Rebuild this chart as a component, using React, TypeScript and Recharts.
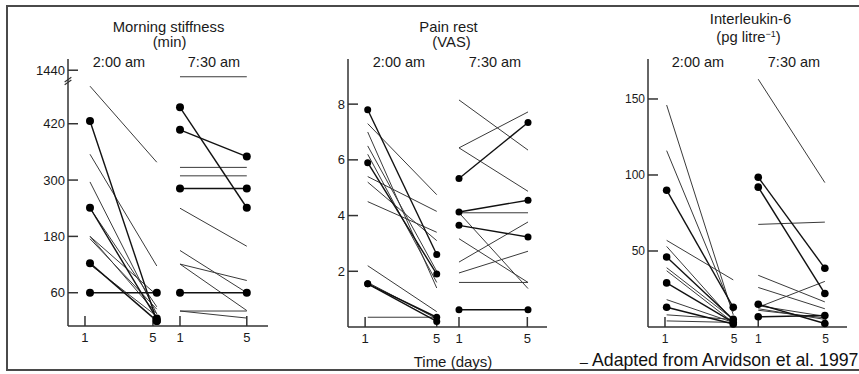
import React from 'react';
import { LineChart, Line, XAxis, YAxis, ReferenceLine } from 'recharts';

// ---------------- Morning stiffness (min) ----------------
const stiffNightDay1 = [500, 426, 355, 296, 241, 240, 180, 180, 175, 123, 120, 60];
const stiffNightDay5 = [338, 0, 117, 15, 5, 30, 55, 15, 25, 0, 10, 60];
const stiffNightMarked = [false, true, false, false, true, false, false, false, false, true, false, true];
const stiffMornDay1 = [900, 455, 407, 327, 309, 282, 240, 150, 121, 121, 60, 21, 21];
const stiffMornDay5 = [900, 241, 350, 327, 309, 282, 159, 60, 86, 22, 60, 21, 6];
const stiffMornMarked = [false, true, true, false, false, true, false, false, false, false, true, false, false];
const stiffTicks = [60, 180, 300, 420, 1440];

// ---------------- Pain rest (VAS) ----------------
const painNightDay1 = [7.3, 7.0, 6.5, 6.2, 5.4, 5.2, 4.5, 2.2, 1.6, 0.35, 7.8, 5.9, 1.55, 1.55];
const painNightDay5 = [4.75, 1.4, 2.0, 1.6, 4.15, 3.1, 3.4, 0.55, 0.3, 0.35, 2.6, 1.9, 0.35, 0.2];
const painNightMarked = [false, false, false, false, false, false, false, false, false, false, true, true, true, true];
const painMornDay1 = [8.15, 6.43, 6.43, 4.1, 3.17, 4.1, 2.33, 1.94, 1.6, 5.33, 4.13, 3.65, 0.62];
const painMornDay5 = [6.35, 7.72, 4.87, 4.1, 1.6, 1.38, 3.77, 2.72, 1.6, 7.34, 4.55, 3.23, 0.62];
const painMornMarked = [false, false, false, false, false, false, false, false, false, true, true, true, true];
const painTicks = [2, 4, 6, 8];

// ---------------- Interleukin-6 (pg/litre) ----------------
const il6NightDay1 = [146, 116, 57, 53, 39, 37, 18, 8, 4, 90, 46, 29, 13];
const il6NightDay5 = [8, 10, 31, 4, 5, 3, 3, 5, 3, 13, 5, 3, 2];
const il6NightMarked = [false, false, false, false, false, false, false, false, false, true, true, true, true];
const il6MornDay1 = [163, 67.5, 34, 26, 13, 14, 12, 11, 98.5, 92, 15, 6.7];
const il6MornDay5 = [95, 69, 16.5, 12, 30, 7, 5, 6, 38.6, 22, 2.3, 7.6];
const il6MornMarked = [false, false, false, false, false, false, false, false, true, true, true, true];
const il6Ticks = [50, 100, 150];

const dayLabels = ['1', '5', '1', '5'];

// axis break used on the morning-stiffness scale (values above 510 min are compressed)
const BREAK_AT = 510;
const BREAK_RATIO = 24 / 930;
const stiffScale = (v: number) => (v <= BREAK_AT ? v : BREAK_AT + (v - BREAK_AT) * BREAK_RATIO);
const ident = (v: number) => v;

const FONT = '"Liberation Sans", Arial, Helvetica, sans-serif';
const INK = '#1a1a1a';

type Group = { day1: number[]; day5: number[]; marked: boolean[]; offset: number; map: (v: number) => number };

type PanelProps = {
  left: number;
  width: number;
  margin: { top: number; right: number; bottom: number; left: number };
  xDomain: [number, number];
  xTicks: number[];
  yDomain: [number, number];
  yTicks: number[];
  yLabels: string[];
  groups: Group[];
  dotR: number;
  yFont: number;
  xFont: number;
  children?: React.ReactNode;
};

function Panel(p: PanelProps) {
  const thin: React.ReactNode[] = [];
  const bold: React.ReactNode[] = [];
  p.groups.forEach((g, gi) => {
    g.day1.forEach((a, i) => {
      const m = g.marked[i];
      const el = (
        <Line
          key={`${gi}-${i}`}
          data={[
            { x: 1 + g.offset, y: g.map(a) },
            { x: 5 + g.offset, y: g.map(g.day5[i]) },
          ]}
          dataKey="y"
          type="linear"
          stroke={m ? '#111' : '#3a3a3a'}
          strokeWidth={m ? 1.4 : 1}
          dot={m ? { r: p.dotR, fill: '#000', stroke: '#000', strokeWidth: 0 } : false}
          activeDot={false}
          isAnimationActive={false}
          legendType="none"
        />
      );
      (m ? bold : thin).push(el);
    });
  });
  return (
    <div style={{ position: 'absolute', left: p.left, top: 0 }}>
      <LineChart width={p.width} height={374} margin={p.margin}>
        <XAxis
          type="number"
          dataKey="x"
          domain={p.xDomain}
          ticks={p.xTicks}
          interval={0}
          tickFormatter={(v: number) => dayLabels[p.xTicks.indexOf(v)] ?? ''}
          height={30}
          tickSize={-10}
          tickMargin={17}
          axisLine={{ stroke: '#333', strokeWidth: 1.5 }}
          tickLine={{ stroke: '#333', strokeWidth: 1.5 }}
          tick={{ fontSize: p.xFont, fill: INK, fontFamily: FONT }}
        />
        <YAxis
          type="number"
          domain={p.yDomain}
          ticks={p.yTicks}
          interval={0}
          tickFormatter={(v: number) => p.yLabels[p.yTicks.indexOf(v)] ?? ''}
          width={40}
          tickSize={-10}
          tickMargin={13}
          axisLine={{ stroke: '#333', strokeWidth: 1.5 }}
          tickLine={{ stroke: '#333', strokeWidth: 1.5 }}
          tick={{ fontSize: p.yFont, fill: INK, fontFamily: FONT }}
        />
        {thin}
        {bold}
        {p.children}
      </LineChart>
    </div>
  );
}

function Label({ x, y, size = 14.5, children }: { x: number; y: number; size?: number; children: React.ReactNode }) {
  return (
    <div
      style={{
        position: 'absolute',
        left: x,
        top: y,
        transform: 'translate(-50%, -50%)',
        whiteSpace: 'nowrap',
        fontFamily: FONT,
        fontSize: size,
        lineHeight: 1,
        color: INK,
      }}
    >
      {children}
    </div>
  );
}

export default function App() {
  const stiffX0 = -0.317;
  return (
    <div style={{ position: 'absolute', left: 0, top: 0, width: 859, height: 374, background: '#fff', overflow: 'hidden' }}>
      <div
        style={{
          position: 'absolute',
          left: 6,
          top: 5,
          width: 900,
          height: 366,
          borderTop: '2px solid #4a4a4a',
          borderLeft: '2px solid #4a4a4a',
          borderBottom: '2px solid #4a4a4a',
          boxSizing: 'border-box',
        }}
      />

      <Panel
        left={0}
        width={290}
        margin={{ top: 59, right: 22, bottom: 18, left: 28 }}
        xDomain={[stiffX0, 11.66]}
        xTicks={[0.7, 4.77, 6.39, 10.39]}
        yDomain={[-10.9, 557.9]}
        yTicks={stiffTicks.map(stiffScale)}
        yLabels={stiffTicks.map(String)}
        dotR={4}
        yFont={13}
        xFont={13}
        groups={[
          { day1: stiffNightDay1, day5: stiffNightDay5, marked: stiffNightMarked, offset: 0, map: stiffScale },
          { day1: stiffMornDay1, day5: stiffMornDay5, marked: stiffMornMarked, offset: 5.39, map: stiffScale },
        ]}
      >
        <ReferenceLine
          segment={[{ x: stiffX0 - 0.2, y: 503 }, { x: stiffX0 + 0.2, y: 513 }]}
          stroke="#333"
          strokeWidth={1.2}
          ifOverflow="visible"
        />
        <ReferenceLine
          segment={[{ x: stiffX0 - 0.2, y: 509 }, { x: stiffX0 + 0.2, y: 519 }]}
          stroke="#333"
          strokeWidth={1.2}
          ifOverflow="visible"
        />
      </Panel>

      <Panel
        left={290}
        width={270}
        margin={{ top: 59, right: 13, bottom: 17, left: 18 }}
        xDomain={[-0.142, 11.39]}
        xTicks={[0.85, 5, 6.29, 10.25]}
        yDomain={[0, 9.62]}
        yTicks={painTicks}
        yLabels={painTicks.map(String)}
        dotR={3.5}
        yFont={13}
        xFont={13}
        groups={[
          { day1: painNightDay1, day5: painNightDay5, marked: painNightMarked, offset: 0, map: ident },
          { day1: painMornDay1, day5: painMornDay5, marked: painMornMarked, offset: 5.29, map: ident },
        ]}
      />

      <Panel
        left={570}
        width={289}
        margin={{ top: 59, right: 12, bottom: 17, left: 38 }}
        xDomain={[-0.12, 11.83]}
        xTicks={[0.9, 5.05, 6.5, 10.55]}
        yDomain={[0, 176.3]}
        yTicks={il6Ticks}
        yLabels={il6Ticks.map(String)}
        dotR={3.8}
        yFont={12}
        xFont={12}
        groups={[
          { day1: il6NightDay1, day5: il6NightDay5, marked: il6NightMarked, offset: 0, map: ident },
          { day1: il6MornDay1, day5: il6MornDay5, marked: il6MornMarked, offset: 5.5, map: ident },
        ]}
      />

      <Label x={168.5} y={27} size={14.8}>Morning stiffness</Label>
      <Label x={169.5} y={42} size={14.8}>(min)</Label>
      <Label x={119} y={62}>2:00 am</Label>
      <Label x={214} y={62}>7:30 am</Label>

      <Label x={448.5} y={27} size={14.8}>Pain rest</Label>
      <Label x={451.5} y={42} size={14.8}>(VAS)</Label>
      <Label x={399} y={62}>2:00 am</Label>
      <Label x={495} y={62}>7:30 am</Label>
      <Label x={453} y={361} size={15}>Time (days)</Label>

      <Label x={750.5} y={19} size={14.8}>Interleukin-6</Label>
      <Label x={748.5} y={37} size={14.8}>
        (pg litre
        <span style={{ fontSize: 9, position: 'relative', top: -5, lineHeight: 0 }}>−1</span>)
      </Label>
      <Label x={698} y={62}>2:00 am</Label>
      <Label x={794} y={62}>7:30 am</Label>

      <div
        style={{
          position: 'absolute',
          left: 580,
          top: 349,
          whiteSpace: 'nowrap',
          fontFamily: FONT,
          fontSize: 14,
          lineHeight: 1,
          color: '#111',
        }}
      >
        _
      </div>
      <div
        style={{
          position: 'absolute',
          left: 592,
          top: 352,
          whiteSpace: 'nowrap',
          fontFamily: FONT,
          fontSize: 17.7,
          lineHeight: 1,
          color: '#111',
        }}
      >
        Adapted from Arvidson et al. 1997
      </div>
    </div>
  );
}
